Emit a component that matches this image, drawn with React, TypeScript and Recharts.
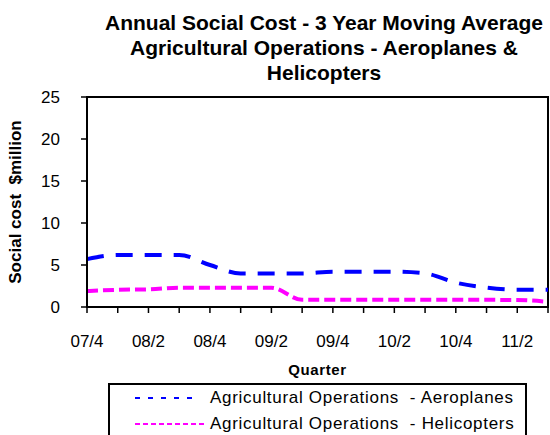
import { LineChart, Line, XAxis, YAxis, ReferenceArea, Legend } from 'recharts'

const quarters = [
  '07/4', '08/1', '08/2', '08/3', '08/4', '09/1', '09/2', '09/3',
  '09/4', '10/1', '10/2', '10/3', '10/4', '11/1', '11/2', '11/3',
]
const aeroplanes = [5.7, 6.2, 6.2, 6.2, 5.0, 4.0, 4.0, 4.0, 4.2, 4.2, 4.2, 4.0, 2.9, 2.3, 2.05, 2.05]
const helicopters = [1.9, 2.05, 2.1, 2.3, 2.3, 2.3, 2.3, 0.85, 0.85, 0.85, 0.85, 0.85, 0.85, 0.85, 0.83, 0.62]
const yTicks = [0, 5, 10, 15, 20, 25]

const seriesInfo = [
  { key: 'aero', name: 'Agricultural Operations  - Aeroplanes', color: '#0000FF', legendDash: '5 8', legendEnd: 90 },
  { key: 'heli', name: 'Agricultural Operations  - Helicopters', color: '#FF00FF', legendDash: '5 3', legendEnd: 95 },
]

const data = quarters.map((q, i) => ({ quarter: q, aero: aeroplanes[i], heli: helicopters[i] }))

const FONT = '"Liberation Sans", Arial, sans-serif'

function LegendBox() {
  return (
    <div style={{ border: '2px solid #000', height: 70, boxSizing: 'border-box', fontFamily: FONT }}>
      {seriesInfo.map(s => (
        <div key={s.key} style={{ display: 'flex', alignItems: 'center', height: 26 }}>
          <svg width={100} height={26} style={{ display: 'block', flex: 'none' }}>
            <line x1={25} y1={13} x2={s.legendEnd} y2={13} stroke={s.color} strokeWidth={2} strokeDasharray={s.legendDash} />
          </svg>
          <span style={{ fontSize: 17, letterSpacing: 0.7, color: '#000', whiteSpace: 'pre' }}>{s.name}</span>
        </div>
      ))}
    </div>
  )
}

export default function App() {
  return (
    <div style={{ position: 'absolute', left: 0, top: 0, width: 550, height: 435, background: '#fff', overflow: 'hidden' }}>
      <div
        style={{
          position: 'absolute', left: 94, width: 460, top: 10, textAlign: 'center',
          fontFamily: FONT, fontWeight: 'bold', fontSize: 21, lineHeight: '25px', color: '#000',
        }}
      >
        Annual Social Cost - 3 Year Moving Average<br />
        Agricultural Operations - Aeroplanes &amp;<br />
        Helicopters
      </div>
      <LineChart
        width={550}
        height={435}
        data={data}
        margin={{ top: 97, right: 2, bottom: 98, left: 27 }}
        style={{ fontFamily: FONT }}
      >
        <XAxis
          dataKey="quarter"
          interval={0}
          tickFormatter={(v, i) => (i % 2 === 0 ? v : '')}
          tick={{ fontSize: 17, fill: '#000' }}
          tickLine={{ stroke: '#000', strokeWidth: 1.5 }}
          axisLine={{ stroke: '#000', strokeWidth: 2 }}
          tickSize={6}
          tickMargin={22}
          height={30}
          label={{ value: 'Quarter', position: 'bottom', offset: 27, style: { fontSize: 15, fontWeight: 'bold', fill: '#000', letterSpacing: 0.6 } }}
        />
        <YAxis
          domain={[0, 25]}
          ticks={yTicks}
          interval={0}
          width={60}
          tick={{ fontSize: 17, fill: '#000' }}
          tickLine={{ stroke: '#000', strokeWidth: 1.5 }}
          axisLine={{ stroke: '#000', strokeWidth: 2 }}
          tickSize={6}
          tickMargin={21}
          label={{
            content: () => (
              <text
                x={15}
                y={202}
                transform="rotate(-90 15 202)"
                textAnchor="middle"
                dominantBaseline="central"
                style={{ fontSize: 17, fontWeight: 'bold', fill: '#000', whiteSpace: 'pre' }}
              >
                {'Social cost  $million'}
              </text>
            ),
          }}
        />
        <ReferenceArea x1={quarters[0]} x2={quarters[quarters.length - 1]} y1={0} y2={25} fill="none" stroke="#000" strokeWidth={2} ifOverflow="visible" />
        <Line
          type="monotone"
          dataKey="aero"
          name={seriesInfo[0].name}
          stroke="#0000FF"
          strokeWidth={4}
          strokeDasharray="17 12"
          dot={false}
          isAnimationActive={false}
        />
        <Line
          type="monotone"
          dataKey="heli"
          name={seriesInfo[1].name}
          stroke="#FF00FF"
          strokeWidth={4}
          strokeDasharray="11 5"
          dot={false}
          isAnimationActive={false}
        />
        <Legend
          layout="horizontal"
          verticalAlign="middle"
          align="center"
          wrapperStyle={{ left: 108, top: 383, width: 419 }}
          content={() => <LegendBox />}
        />
      </LineChart>
    </div>
  )
}
